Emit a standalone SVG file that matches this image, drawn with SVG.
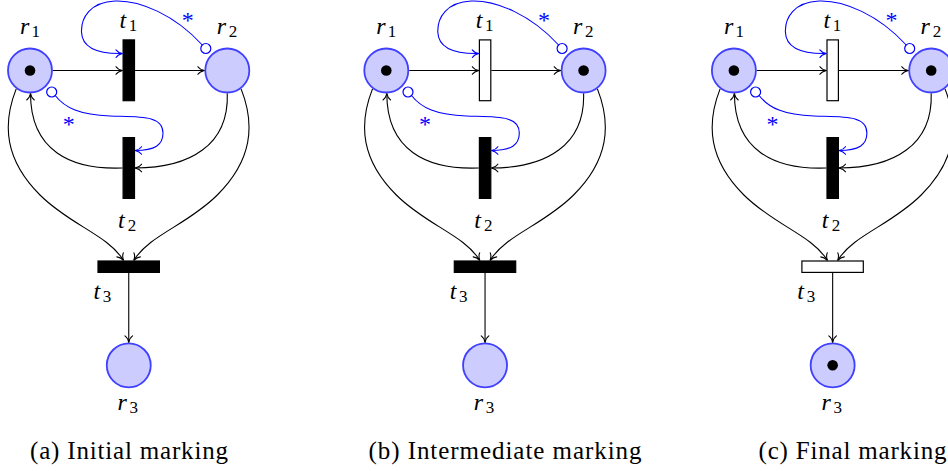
<svg xmlns="http://www.w3.org/2000/svg" width="948" height="471" viewBox="0 0 948 471" font-family="Liberation Serif, DejaVu Serif, serif">
<style>
.place{fill:#ccccff;stroke:#4040ff;stroke-width:1.8}
.token{fill:#000}
.trans{stroke:#000;stroke-width:1.2}
.on{fill:#000}
.off{fill:#fff}
.arc{fill:none;stroke:#000;stroke-width:1.1;marker-end:url(#ah)}
.inh{fill:none;stroke:#0000ff;stroke-width:1.1;marker-end:url(#ahb)}
.inhc{fill:#fff;stroke:#0000ff;stroke-width:1.2}
.lbl{font-size:24px;fill:#000}
.it{font-style:italic}
.sub{font-size:17px;font-style:normal}
.star{font-size:24px;fill:#0000ff;text-anchor:middle}
.cap{font-size:25px;fill:#000}
</style>
<defs>
<marker id="ah" markerUnits="userSpaceOnUse" viewBox="-8 -5 10 10" refX="0" refY="0" markerWidth="10" markerHeight="10" orient="auto" overflow="visible">
<path d="M -6.5,-3.8 C -5,-1.6 -1.8,-0.4 0,0 C -1.8,0.4 -5,1.6 -6.5,3.8" fill="none" stroke="#000" stroke-width="1.1" stroke-linecap="round"/>
</marker>
<marker id="ahb" markerUnits="userSpaceOnUse" viewBox="-8 -5 10 10" refX="0" refY="0" markerWidth="10" markerHeight="10" orient="auto" overflow="visible">
<path d="M -6.5,-3.8 C -5,-1.6 -1.8,-0.4 0,0 C -1.8,0.4 -5,1.6 -6.5,3.8" fill="none" stroke="#0000ff" stroke-width="1.1" stroke-linecap="round"/>
</marker>
</defs>

<!-- Panel (a) -->
<g id="panel-a">
<g id="a-r1"><circle class="place" cx="30" cy="70.5" r="22"/><circle class="token" cx="30" cy="70.5" r="5.3"/><text class="lbl" font-family="Liberation Serif" x="20" y="34"><tspan class="it">r</tspan><tspan class="sub" x="31.5" y="36.5">1</tspan></text></g>
<g id="a-r2"><circle class="place" cx="227.3" cy="70.5" r="22"/><text class="lbl" font-family="Liberation Serif" x="216.7" y="34"><tspan class="it">r</tspan><tspan class="sub" x="228.8" y="36.5">2</tspan></text></g>
<g id="a-r3"><circle class="place" cx="128.75" cy="365.3" r="22"/><text class="lbl" font-family="Liberation Serif" x="117.5" y="410"><tspan class="it">r</tspan><tspan class="sub" x="129.5" y="412.5">3</tspan></text></g>
<g id="a-t1"><rect class="trans on" x="123.1" y="39.9" width="11.4" height="60.8"/><text class="lbl" font-family="Liberation Serif" x="119.5" y="28.3"><tspan class="it">t</tspan><tspan class="sub" x="128.8" y="30.8">1</tspan></text></g>
<g id="a-t2"><rect class="trans on" x="123.1" y="137.6" width="11.4" height="60.8"/><text class="lbl" font-family="Liberation Serif" x="117.9" y="228.3"><tspan class="it">t</tspan><tspan class="sub" x="127.8" y="230.8">2</tspan></text></g>
<g id="a-t3"><rect class="trans on" x="98" y="261" width="61.4" height="11.4"/><text class="lbl" font-family="Liberation Serif" x="93.4" y="299"><tspan class="it">t</tspan><tspan class="sub" x="102.8" y="301.5">3</tspan></text></g>
<g id="a-connectors">
<path class="arc" d="M 52.9,70.5 L 122.5,70.5"/>
<path class="arc" d="M 135.1,70.5 L 204.4,70.5"/>
<path class="arc" d="M 122.5,168 C 70,170 30.5,150 30.5,93.5"/>
<path class="arc" d="M 227.3,93.4 C 229,145 190,168 135.1,168"/>
<path class="arc" d="M 16.2,88.9 C 2,125 5,160 40,195 C 70,225 108,235 123.5,260.4"/>
<path class="arc" d="M 241.1,88.9 C 255.3,125 252.3,160 217.3,195 C 187.3,225 149.3,235 133.8,260.4"/>
<path class="arc" d="M 128.75,273 L 128.75,342.4"/>
<path class="inh" d="M 202.3,45 C 175,15 140,0 115,1 C 90,2 81,18 81.5,32 C 82,47 97,54 122.5,53.5"/>
<circle class="inhc" cx="205.8" cy="48.5" r="5"/>
<text class="star" font-family="Liberation Serif" x="187.7" y="28">*</text>
<path class="inh" d="M 55.2,95.5 C 65,108 80,115 110,116 C 140,117 163,115 163,133 C 163,145 155,150.5 135.1,150.5"/>
<circle class="inhc" cx="51.7" cy="92" r="5"/>
<text class="star" font-family="Liberation Serif" x="68.7" y="131.6">*</text>
</g>
<text id="a-caption" class="cap" font-family="Liberation Serif" x="30" y="459" textLength="198" lengthAdjust="spacing">(a) Initial marking</text>
</g>

<!-- Panel (b) -->
<g id="panel-b">
<g transform="translate(356.3,0)">
<g id="b-r1"><circle class="place" cx="30" cy="70.5" r="22"/><circle class="token" cx="30" cy="70.5" r="5.3"/><text class="lbl" font-family="Liberation Serif" x="20" y="34"><tspan class="it">r</tspan><tspan class="sub" x="31.5" y="36.5">1</tspan></text></g>
<g id="b-r2"><circle class="place" cx="227.3" cy="70.5" r="22"/><circle class="token" cx="227.3" cy="70.5" r="5.3"/><text class="lbl" font-family="Liberation Serif" x="216.7" y="34"><tspan class="it">r</tspan><tspan class="sub" x="228.8" y="36.5">2</tspan></text></g>
<g id="b-r3"><circle class="place" cx="128.75" cy="365.3" r="22"/><text class="lbl" font-family="Liberation Serif" x="117.5" y="410"><tspan class="it">r</tspan><tspan class="sub" x="129.5" y="412.5">3</tspan></text></g>
<g id="b-t1"><rect class="trans off" x="123.1" y="39.9" width="11.4" height="60.8"/><text class="lbl" font-family="Liberation Serif" x="119.5" y="28.3"><tspan class="it">t</tspan><tspan class="sub" x="128.8" y="30.8">1</tspan></text></g>
<g id="b-t2"><rect class="trans on" x="123.1" y="137.6" width="11.4" height="60.8"/><text class="lbl" font-family="Liberation Serif" x="117.9" y="228.3"><tspan class="it">t</tspan><tspan class="sub" x="127.8" y="230.8">2</tspan></text></g>
<g id="b-t3"><rect class="trans on" x="98" y="261" width="61.4" height="11.4"/><text class="lbl" font-family="Liberation Serif" x="93.4" y="299"><tspan class="it">t</tspan><tspan class="sub" x="102.8" y="301.5">3</tspan></text></g>
<g id="b-connectors">
<path class="arc" d="M 52.9,70.5 L 122.5,70.5"/>
<path class="arc" d="M 135.1,70.5 L 204.4,70.5"/>
<path class="arc" d="M 122.5,168 C 70,170 30.5,150 30.5,93.5"/>
<path class="arc" d="M 227.3,93.4 C 229,145 190,168 135.1,168"/>
<path class="arc" d="M 16.2,88.9 C 2,125 5,160 40,195 C 70,225 108,235 123.5,260.4"/>
<path class="arc" d="M 241.1,88.9 C 255.3,125 252.3,160 217.3,195 C 187.3,225 149.3,235 133.8,260.4"/>
<path class="arc" d="M 128.75,273 L 128.75,342.4"/>
<path class="inh" d="M 202.3,45 C 175,15 140,0 115,1 C 90,2 81,18 81.5,32 C 82,47 97,54 122.5,53.5"/>
<circle class="inhc" cx="205.8" cy="48.5" r="5"/>
<text class="star" font-family="Liberation Serif" x="187.7" y="28">*</text>
<path class="inh" d="M 55.2,95.5 C 65,108 80,115 110,116 C 140,117 163,115 163,133 C 163,145 155,150.5 135.1,150.5"/>
<circle class="inhc" cx="51.7" cy="92" r="5"/>
<text class="star" font-family="Liberation Serif" x="68.7" y="131.6">*</text>
</g>
</g>
<text id="b-caption" class="cap" font-family="Liberation Serif" x="368.5" y="459" textLength="273" lengthAdjust="spacing">(b) Intermediate marking</text>
</g>

<!-- Panel (c) -->
<g id="panel-c">
<g transform="translate(703.9,0)">
<g id="c-r1"><circle class="place" cx="30" cy="70.5" r="22"/><circle class="token" cx="30" cy="70.5" r="5.3"/><text class="lbl" font-family="Liberation Serif" x="20" y="34"><tspan class="it">r</tspan><tspan class="sub" x="31.5" y="36.5">1</tspan></text></g>
<g id="c-r2"><circle class="place" cx="227.3" cy="70.5" r="22"/><circle class="token" cx="227.3" cy="70.5" r="5.3"/><text class="lbl" font-family="Liberation Serif" x="216.7" y="34"><tspan class="it">r</tspan><tspan class="sub" x="228.8" y="36.5">2</tspan></text></g>
<g id="c-r3"><circle class="place" cx="128.75" cy="365.3" r="22"/><circle class="token" cx="128.75" cy="365.3" r="5.3"/><text class="lbl" font-family="Liberation Serif" x="117.5" y="410"><tspan class="it">r</tspan><tspan class="sub" x="129.5" y="412.5">3</tspan></text></g>
<g id="c-t1"><rect class="trans off" x="123.1" y="39.9" width="11.4" height="60.8"/><text class="lbl" font-family="Liberation Serif" x="119.5" y="28.3"><tspan class="it">t</tspan><tspan class="sub" x="128.8" y="30.8">1</tspan></text></g>
<g id="c-t2"><rect class="trans on" x="123.1" y="137.6" width="11.4" height="60.8"/><text class="lbl" font-family="Liberation Serif" x="117.9" y="228.3"><tspan class="it">t</tspan><tspan class="sub" x="127.8" y="230.8">2</tspan></text></g>
<g id="c-t3"><rect class="trans off" x="98" y="261" width="61.4" height="11.4"/><text class="lbl" font-family="Liberation Serif" x="93.4" y="299"><tspan class="it">t</tspan><tspan class="sub" x="102.8" y="301.5">3</tspan></text></g>
<g id="c-connectors">
<path class="arc" d="M 52.9,70.5 L 122.5,70.5"/>
<path class="arc" d="M 135.1,70.5 L 204.4,70.5"/>
<path class="arc" d="M 122.5,168 C 70,170 30.5,150 30.5,93.5"/>
<path class="arc" d="M 227.3,93.4 C 229,145 190,168 135.1,168"/>
<path class="arc" d="M 16.2,88.9 C 2,125 5,160 40,195 C 70,225 108,235 123.5,260.4"/>
<path class="arc" d="M 241.1,88.9 C 255.3,125 252.3,160 217.3,195 C 187.3,225 149.3,235 133.8,260.4"/>
<path class="arc" d="M 128.75,273 L 128.75,342.4"/>
<path class="inh" d="M 202.3,45 C 175,15 140,0 115,1 C 90,2 81,18 81.5,32 C 82,47 97,54 122.5,53.5"/>
<circle class="inhc" cx="205.8" cy="48.5" r="5"/>
<text class="star" font-family="Liberation Serif" x="187.7" y="28">*</text>
<path class="inh" d="M 55.2,95.5 C 65,108 80,115 110,116 C 140,117 163,115 163,133 C 163,145 155,150.5 135.1,150.5"/>
<circle class="inhc" cx="51.7" cy="92" r="5"/>
<text class="star" font-family="Liberation Serif" x="68.7" y="131.6">*</text>
</g>
</g>
<text id="c-caption" class="cap" font-family="Liberation Serif" x="758.5" y="459" textLength="188" lengthAdjust="spacing">(c) Final marking</text>
</g>
</svg>
